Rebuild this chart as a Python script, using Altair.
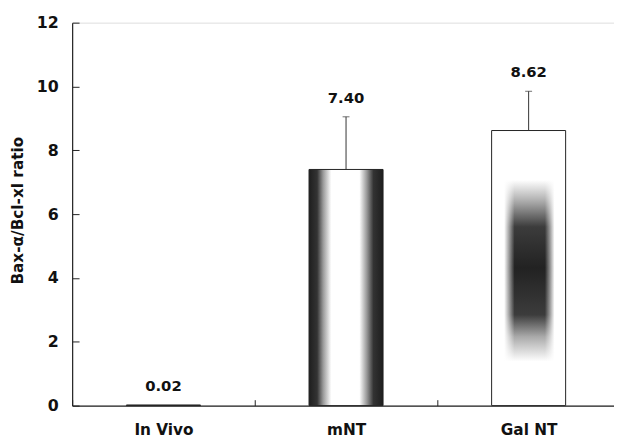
import altair as alt
import pandas as pd

categories = ["In Vivo", "mNT", "Gal NT"]
means = [0.02, 7.40, 8.62]
err_top = [0.02, 9.05, 9.85]
value_labels = ["0.02", "7.40", "8.62"]

df = pd.DataFrame({"cat": categories, "mean": means, "top": err_top, "label": value_labels})

FONT = "DejaVu Sans"

x_enc = alt.X(
    "cat:N",
    sort=categories,
    scale=alt.Scale(range=[0, 555], paddingInner=0, paddingOuter=0),
    axis=alt.Axis(
        title=None,
        labelAngle=0,
        labelFont=FONT,
        labelFontWeight="bold",
        labelFontSize=15.5,
        labelColor="#111",
        labelBaseline="alphabetic",
        labelPadding=35,
        tickBand="extent",
        tickSize={"expr": "-6"},
        tickColor="#222",
        domainColor="#222",
        domainWidth=1.2,
    ),
)
y_scale = alt.Scale(domain=[0, 12], nice=False)
y_enc = alt.Y(
    "mean:Q",
    scale=y_scale,
    axis=alt.Axis(
        title="Bax-α/Bcl-xl ratio",
        values=[0, 2, 4, 6, 8, 10, 12],
        grid=False,
        labelFont=FONT,
        labelFontWeight="bold",
        labelFontSize=16,
        labelColor="#111",
        labelPadding=21,
        tickSize={"expr": "-7"},
        tickColor="#222",
        domainColor="#222",
        domainWidth=1.2,
        titleFont=FONT,
        titleFontWeight="bold",
        titleFontSize=15.5,
        titleColor="#111",
        titleX=-55,
        titleY=190,
        titleBaseline="middle",
    ),
)

base = alt.Chart(df)

mnt_grad = alt.LinearGradient(
    gradient="linear",
    x1=0, x2=1, y1=0, y2=0,
    stops=[
        alt.GradientStop(offset=0.0, color="#1e1e1e"),
        alt.GradientStop(offset=0.11, color="#333333"),
        alt.GradientStop(offset=0.19, color="#999999"),
        alt.GradientStop(offset=0.3, color="#ffffff"),
        alt.GradientStop(offset=0.68, color="#ffffff"),
        alt.GradientStop(offset=0.78, color="#999999"),
        alt.GradientStop(offset=0.87, color="#333333"),
        alt.GradientStop(offset=1.0, color="#1e1e1e"),
    ],
)
# vertical shading of the Gal NT bar
gal_vert = alt.LinearGradient(
    gradient="linear",
    x1=0, x2=0, y1=0, y2=1,
    stops=[
        alt.GradientStop(offset=0.0, color="#ffffff"),
        alt.GradientStop(offset=0.18, color="#ffffff"),
        alt.GradientStop(offset=0.25, color="#b4b4b4"),
        alt.GradientStop(offset=0.35, color="#3c3c3c"),
        alt.GradientStop(offset=0.5, color="#222222"),
        alt.GradientStop(offset=0.67, color="#3c3c3c"),
        alt.GradientStop(offset=0.75, color="#aaaaaa"),
        alt.GradientStop(offset=0.84, color="#ffffff"),
        alt.GradientStop(offset=1.0, color="#ffffff"),
    ],
)
# horizontal white mask leaving the centre visible
gal_mask = alt.LinearGradient(
    gradient="linear",
    x1=0, x2=1, y1=0, y2=0,
    stops=[
        alt.GradientStop(offset=0.0, color="rgba(255,255,255,1)"),
        alt.GradientStop(offset=0.17, color="rgba(255,255,255,1)"),
        alt.GradientStop(offset=0.24, color="rgba(255,255,255,0.5)"),
        alt.GradientStop(offset=0.31, color="rgba(255,255,255,0)"),
        alt.GradientStop(offset=0.72, color="rgba(255,255,255,0)"),
        alt.GradientStop(offset=0.79, color="rgba(255,255,255,0.5)"),
        alt.GradientStop(offset=0.85, color="rgba(255,255,255,1)"),
        alt.GradientStop(offset=1.0, color="rgba(255,255,255,1)"),
    ],
)

bar_invivo = base.transform_filter(alt.datum.cat == "In Vivo").mark_bar(
    size=75, fill="#444", stroke="#222", strokeWidth=1
).encode(x=x_enc, y=y_enc)
bar_mnt = base.transform_filter(alt.datum.cat == "mNT").mark_bar(
    size=75, fill=mnt_grad, stroke="#222", strokeWidth=1
).encode(x=x_enc, y=y_enc)
bar_gal = base.transform_filter(alt.datum.cat == "Gal NT").mark_bar(
    size=75, fill=gal_vert, strokeWidth=0
).encode(x=x_enc, y=y_enc)
bar_gal_mask = base.transform_filter(alt.datum.cat == "Gal NT").mark_bar(
    size=75, fill=gal_mask, stroke="#222", strokeWidth=1
).encode(x=x_enc, y=y_enc)

err = base.transform_filter(alt.datum.top > alt.datum.mean).mark_rule(
    color="#333", strokeWidth=1
).encode(x=x_enc, y=alt.Y("mean:Q", scale=y_scale), y2="top:Q")
cap = base.transform_filter(alt.datum.top > alt.datum.mean).mark_tick(
    color="#333", thickness=1, size=7, orient="horizontal"
).encode(x=x_enc, y=alt.Y("top:Q", scale=y_scale))

txt = base.mark_text(
    font=FONT, fontWeight="bold", fontSize=15, color="#111",
    baseline="middle", dy=-19,
).encode(x=x_enc, y=alt.Y("top:Q", scale=y_scale), text="label:N")

chart = alt.layer(bar_invivo, bar_mnt, bar_gal, bar_gal_mask, err, cap, txt).properties(
    width=549,
    height=388,
    autosize=alt.AutoSizeParams(type="none"),
    padding={"left": 65, "top": 12, "right": 0, "bottom": 32},
).configure_view(stroke=None).configure(background="white")

chart.save("out.html", embed_options={"renderer": "svg", "actions": False})
